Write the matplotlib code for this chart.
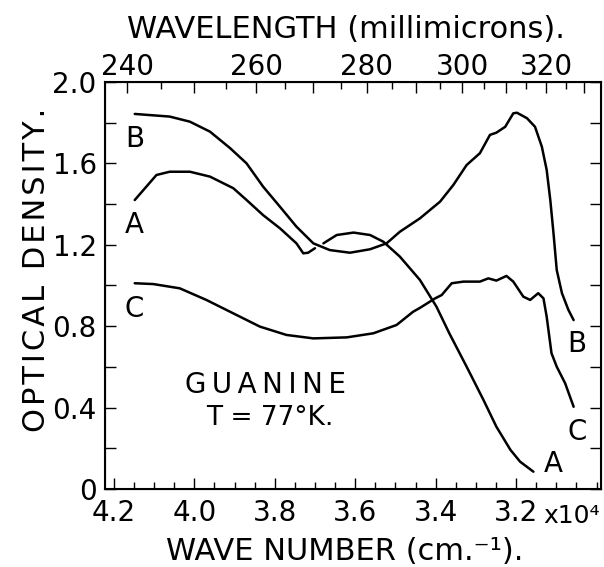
import numpy as np
import matplotlib
matplotlib.use("Agg")
import matplotlib.pyplot as plt
from matplotlib.ticker import FixedLocator, MultipleLocator, NullFormatter

plt.rcParams['font.family'] = ['DejaVu Sans']

# wave number in units of 10^4 cm^-1, optical density
nan = np.nan
a_wave = [4.148, 4.119, 4.094, 4.061, 4.011, 3.961, 3.903, 3.870, 3.829, 3.787,
          3.746, 3.729, 3.717, 3.700, nan, 3.679, 3.646, 3.604, 3.563, 3.530,
          3.489, 3.439, 3.398, 3.366, 3.323, 3.281, 3.249, 3.214, 3.190, 3.157]
a_od = [1.420, 1.486, 1.543, 1.559, 1.559, 1.535, 1.478, 1.420, 1.346, 1.281,
        1.207, 1.158, 1.161, 1.183, nan, 1.207, 1.248, 1.260, 1.248, 1.215,
        1.142, 1.027, 0.896, 0.765, 0.601, 0.437, 0.306, 0.192, 0.134, 0.085]

b_wave = [4.148, 4.061, 4.011, 3.961, 3.911, 3.870, 3.829, 3.787, 3.746, 3.704,
          3.663, 3.613, 3.563, 3.522, 3.489, 3.439, 3.389, 3.356, 3.323, 3.290,
          3.265, 3.249, 3.227, 3.207, 3.198, 3.173, 3.153, 3.136, 3.124, 3.115,
          3.107, 3.099, 3.086, 3.070, 3.057]
b_od = [1.843, 1.830, 1.805, 1.756, 1.675, 1.600, 1.486, 1.387, 1.289, 1.207,
        1.174, 1.161, 1.178, 1.207, 1.264, 1.330, 1.412, 1.494, 1.592, 1.650,
        1.740, 1.751, 1.780, 1.846, 1.849, 1.822, 1.780, 1.682, 1.568, 1.420,
        1.256, 1.076, 0.962, 0.880, 0.830]

c_wave = [4.148, 4.102, 4.036, 3.970, 3.903, 3.837, 3.771, 3.704, 3.621, 3.555,
          3.497, 3.456, 3.439, 3.401, 3.385, 3.360, 3.331, 3.290, 3.269, 3.249,
          3.224, 3.207, 3.182, 3.165, 3.145, 3.132, 3.124, 3.112, 3.099, 3.078,
          3.057]
c_od = [1.011, 1.007, 0.986, 0.929, 0.863, 0.798, 0.757, 0.740, 0.745, 0.765,
        0.806, 0.871, 0.890, 0.937, 0.953, 1.011, 1.019, 1.019, 1.035, 1.024,
        1.047, 1.019, 0.945, 0.929, 0.962, 0.937, 0.847, 0.667, 0.601, 0.519,
        0.404]

wave_labels = [4.2, 4.0, 3.8, 3.6, 3.4, 3.2]
od_ticks = [0, 0.2, 0.4, 0.6, 0.8, 1.0, 1.2, 1.4, 1.6, 1.8, 2.0]
od_labels = ['0', '', '0.4', '', '0.8', '', '1.2', '', '1.6', '', '2.0']
nm_labels = [240, 260, 280, 300, 320]
nm_major = [240, 250, 260, 270, 280, 290, 300, 310, 320, 330]
nm_minor = [245, 255, 265, 275, 285, 295, 305, 315, 325]

# curve letters: (text, wave, od baseline)
curve_tags = [('B', 4.149, 1.681), ('A', 4.149, 1.258), ('C', 4.149, 0.845),
              ('B', 3.048, 0.673), ('C', 3.048, 0.241), ('A', 3.108, 0.083)]


def spaced(s, gap):
    # old lettering is spread out, fake it with narrow spaces
    return gap.join(s)


fig = plt.figure(figsize=(6.04, 5.67), dpi=100)
ax = fig.add_axes([0.1738, 0.1376, 0.8212, 0.7178])

for w, od in [(a_wave, a_od), (b_wave, b_od), (c_wave, c_od)]:
    ax.plot(w, od, color='black', linewidth=1.8, solid_capstyle='round')

ax.set_xlim(4.222, 2.989)
ax.set_ylim(0, 2.0)

ax.xaxis.set_major_locator(FixedLocator(wave_labels))
ax.set_xticklabels(['%.1f' % v for v in wave_labels])
ax.xaxis.set_minor_locator(MultipleLocator(0.05))
ax.set_yticks(od_ticks)
ax.set_yticklabels(od_labels)

ax.tick_params(axis='both', which='both', direction='in', width=1.0,
               top=False, right=True, labelsize=20)
ax.tick_params(axis='x', which='major', length=8, pad=7)
ax.tick_params(axis='x', which='minor', length=5)
ax.tick_params(axis='y', which='major', length=8, pad=6)
for sp in ax.spines.values():
    sp.set_linewidth(1.5)

# wavelength scale along the top
ax2 = ax.twiny()
ax2.set_xlim(ax.get_xlim())
ax2.xaxis.set_major_locator(FixedLocator([1000.0 / v for v in nm_major]))
ax2.set_xticklabels([str(v) if v in nm_labels else '' for v in nm_major])
ax2.xaxis.set_minor_locator(FixedLocator([1000.0 / v for v in nm_minor]))
ax2.xaxis.set_minor_formatter(NullFormatter())
ax2.tick_params(axis='x', which='both', direction='in', width=1.0, labelsize=20)
ax2.tick_params(axis='x', which='major', length=8, pad=1)
ax2.tick_params(axis='x', which='minor', length=5)

ax.text(3.133, -0.0835, 'x10⁴', transform=ax.get_xaxis_transform(),
        ha='left', va='baseline', fontsize=18)

for tag, w, od in curve_tags:
    ax.text(w, od, tag, ha='center', va='baseline', fontsize=20)

ax.text(3.824, 0.472, spaced('GUANINE', '\u2009'), ha='center', va='baseline', fontsize=20)
ax.text(3.812, 0.3145, 'T = 77°K.', ha='center', va='baseline', fontsize=19)

fig.text(0.571, 0.013, 'WAVE NUMBER (cm.⁻¹).', ha='center', va='baseline', fontsize=22)
fig.text(0.573, 0.933, 'WAVELENGTH (millimicrons).', ha='center', va='baseline', fontsize=22)
fig.text(0.0745, 0.5238, spaced('OPTICAL DENSITY.', '\u200a'), ha='center', va='baseline',
         rotation=90, rotation_mode='anchor', fontsize=22)

fig.savefig('out.png', dpi=100)
